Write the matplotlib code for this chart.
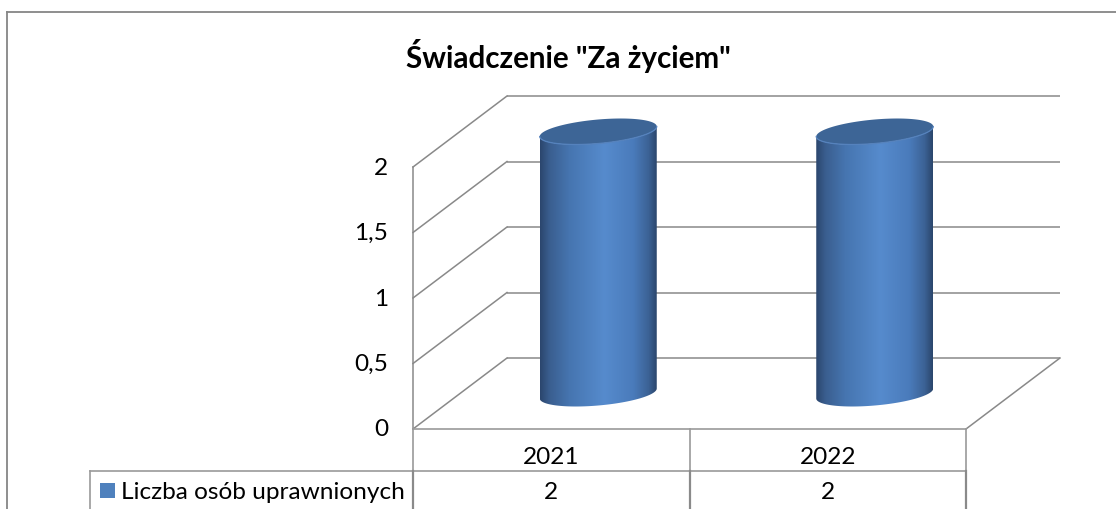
import numpy as np
import matplotlib
matplotlib.use('Agg')
import matplotlib.pyplot as plt
from matplotlib.path import Path
from matplotlib.patches import PathPatch, Polygon, Rectangle
from matplotlib.colors import LinearSegmentedColormap

# ---------------- data ----------------
title = 'Świadczenie "Za życiem"'
categories = ['2021', '2022']
values = [2, 2]
series_name = 'Liczba osób uprawnionych'
y_ticks = [0, 0.5, 1, 1.5, 2]
y_tick_labels = ['0', '0,5', '1', '1,5', '2']

# ---------------- layout (pixels) ----------------
W, H = 1116, 509
X_LEFT, X_RIGHT = 413, 966     # front plane horizontal extent
Y0 = 429                       # pixel row of value 0 on the front plane
PX_PER_UNIT = 131
DEPTH_DX, DEPTH_DY = 94, 71    # oblique depth offset
FONT = 'Lato'
GRID = '#898989'
FS = 17.6

fig = plt.figure(figsize=(W / 100, H / 100), dpi=100)
ax = fig.add_axes([0, 0, 1, 1])
ax.axis('off')

n = len(categories)
ux = (X_RIGHT - X_LEFT) / n
x_min = -0.5 - X_LEFT / ux
x_max = -0.5 + (W - X_LEFT) / ux
y_min = -(H - Y0) / PX_PER_UNIT
y_max = Y0 / PX_PER_UNIT
ddx = DEPTH_DX / ux
ddy = DEPTH_DY / PX_PER_UNIT


def px2x(px):
    return -0.5 + (px - X_LEFT) / ux


def px2y(py):
    return (Y0 - py) / PX_PER_UNIT


x0, x1 = -0.5, n - 0.5
ymax_v = max(y_ticks)

# ---------------- walls / grid ----------------
for v in y_ticks:
    ax.plot([x0 + ddx, x1 + ddx], [v + ddy, v + ddy], color=GRID, lw=1.1, zorder=1,
            solid_capstyle='butt')
    ax.plot([x0, x0 + ddx], [v, v + ddy], color=GRID, lw=1.1, zorder=1)
ax.plot([x0, x0], [0, ymax_v], color=GRID, lw=1.1, zorder=1)
ax.plot([x1, x1 + ddx], [0, ddy], color=GRID, lw=1.1, zorder=1)

for v, lab in zip(y_ticks, y_tick_labels):
    ax.annotate(lab, xy=(x0, v), xytext=(-25 * 0.72, -1 * 0.72), textcoords='offset points',
                ha='right', va='center', fontsize=FS, family=FONT, color='#000000')

# ---------------- data table ----------------
row1 = px2y(471)
TBL = '#9a9a9a'
ax.plot([x0, x1], [0, 0], color=TBL, lw=1.2, zorder=2)
ax.plot([px2x(90), x1], [row1, row1], color=TBL, lw=1.2, zorder=2)
for k in range(n + 1):
    xv = x0 + k
    ax.plot([xv, xv], [0, row1], color=TBL, lw=1.2, zorder=2)
    ax.plot([xv, xv], [row1, y_min], color='#8a8a8a', lw=1.6, zorder=2)
ax.plot([px2x(90), px2x(90)], [row1, y_min], color=TBL, lw=1.2, zorder=2)

for i, (c, v) in enumerate(zip(categories, values)):
    ax.text(i, px2y(464), c, ha='center', va='baseline', fontsize=FS, family=FONT)
    ax.text(i, px2y(499), f'{v}'.replace('.', ','), ha='center', va='baseline',
            fontsize=FS, family=FONT)

ax.add_patch(Rectangle((px2x(100), px2y(498)), 15 / ux, 15 / PX_PER_UNIT,
                       facecolor='#4f81bd', edgecolor='none', zorder=3))
ax.text(px2x(121), px2y(499), series_name, ha='left', va='baseline',
        fontsize=FS, family=FONT)

# ---------------- cylinders ----------------
grad_cmap = LinearSegmentedColormap.from_list('cyl', [
    (0.00, '#2b466d'), (0.08, '#3a5e8f'), (0.25, '#4675b0'), (0.55, '#568bcd'),
    (0.80, '#4a7bbb'), (0.93, '#3b6295'), (1.00, '#2b466c')])
a = 58.5 / ux
tilt = 5.0 / PX_PER_UNIT
b = 12.0 / PX_PER_UNIT
th = np.linspace(0, 2 * np.pi, 200)
for i, v in enumerate(values):
    xc = i + ddx / 2
    yb = ddy / 2
    yt = v + ddy / 2
    lower = np.linspace(np.pi, 2 * np.pi, 100)
    bx = xc + a * np.cos(lower)
    by_bot = yb + tilt * np.cos(lower) + b * np.sin(lower)
    by_top = yt + tilt * np.cos(lower) + b * np.sin(lower)
    verts = np.vstack([
        np.column_stack([bx, by_bot]),
        np.column_stack([bx[::-1], by_top[::-1]]),
        [[bx[0], by_bot[0]]]])
    body = PathPatch(Path(verts, closed=True), facecolor='none', edgecolor='none',
                     transform=ax.transData)
    grad = np.linspace(0, 1, 256).reshape(1, -1)
    im = ax.imshow(grad, extent=[xc - a, xc + a, yb - b - tilt - 0.05, yt + b + 0.05],
                   aspect='auto', cmap=grad_cmap, interpolation='bilinear', zorder=3,
                   origin='lower')
    im.set_clip_path(body)
    tx = xc + a * np.cos(th)
    ty = yt + tilt * np.cos(th) + b * np.sin(th)
    ax.add_patch(Polygon(np.column_stack([tx, ty]), closed=True, facecolor='#3d6596',
                         edgecolor='none', zorder=4))
    ax.plot(bx, by_top, color='#5582bd', lw=0.9, zorder=4.5)

# ---------------- outer border ----------------
ax.plot([px2x(7), x_max + 1], [px2y(12), px2y(12)], color='#868686', lw=1.3, zorder=1)
ax.plot([px2x(7), px2x(7)], [px2y(12), y_min - 1], color='#868686', lw=1.3, zorder=1)

# ---------------- title ----------------
fig.text(568.5 / W, 1 - 56 / H, title, ha='center', va='center', fontsize=21.3,
         fontweight='bold', family=FONT)

ax.set_xlim(x_min, x_max)
ax.set_ylim(y_min, y_max)
fig.savefig('out.png', dpi=100)
